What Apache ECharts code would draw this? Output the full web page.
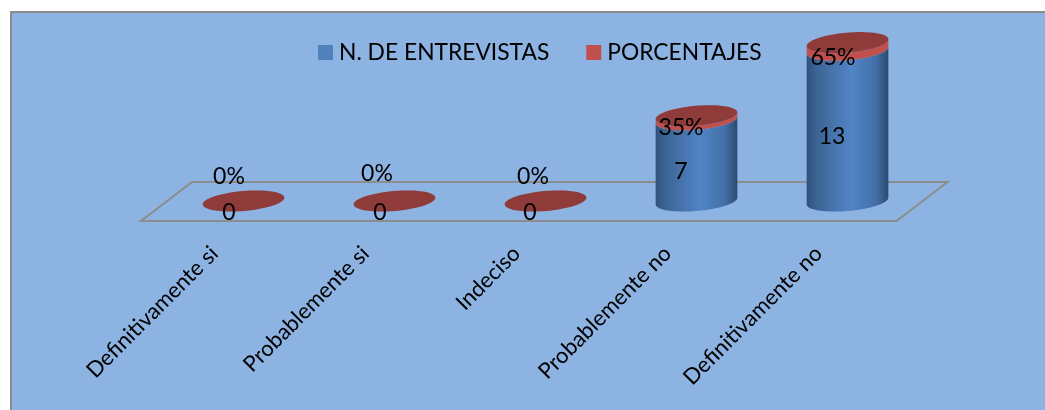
<!DOCTYPE html>
<html><head><meta charset="utf-8">
<style>html,body{margin:0;padding:0;background:#fff}#c{width:1045px;height:410px}</style>
<script src="https://cdn.jsdelivr.net/npm/echarts@6/dist/echarts.min.js"></script>
</head><body><div id="c"></div>
<script>
const categories = ['Definitivamente si','Probablemente si','Indeciso','Probablemente no','Definitivamente no'];
const entrevistas = [0,0,0,7,13];
const porcentajes = [0,0,0,0.35,0.65];
const seriesNames = ['N. DE ENTREVISTAS','PORCENTAJES'];
const pctNudge = [[-14.5,-24],[-17.5,-27],[-12.5,-24],[-15.5,10],[-14.5,11]];
const countNudge = [[-14.5,12],[-14.5,12],[-15.5,12],[-15.5,11],[-15.5,11]];
const FONT = 'Lato, sans-serif';
const RX = 41, RY = 10, TILT = -5 * Math.PI / 180;

function ell(cx, cy, t) {
  const c = Math.cos(t), s = Math.sin(t);
  return [cx + RX*c*Math.cos(TILT) - RY*s*Math.sin(TILT), cy + RX*c*Math.sin(TILT) + RY*s*Math.cos(TILT)];
}
const T0 = Math.atan2(-RY*Math.sin(TILT), RX*Math.cos(TILT));
function band(cx, yLow, yHigh) {
  const pts = [];
  for (let i=0;i<=48;i++) pts.push(ell(cx, yLow, T0 + Math.PI*i/48));
  for (let i=0;i<=48;i++) pts.push(ell(cx, yHigh, T0 + Math.PI - Math.PI*i/48));
  return pts;
}
function disc(cx, cy) {
  const pts = [];
  for (let i=0;i<96;i++) pts.push(ell(cx, cy, 2*Math.PI*i/96));
  return pts;
}
function grad(stops){ return new echarts.graphic.LinearGradient(0,0,1,0,stops); }
const blueGrad = [{offset:0,color:'#2f527c'},{offset:0.12,color:'#3c6494'},{offset:0.55,color:'#5185c6'},{offset:0.85,color:'#436fa6'},{offset:1,color:'#2b4a70'}];
const label = (x,y,text) => ({type:'text',silent:true,z2:20,style:{x,y,text,align:'center',verticalAlign:'middle',font:'23px '+FONT,fill:'#000'}});

const option = {
  animation:false,
  backgroundColor:'#ffffff',
  textStyle:{fontFamily:FONT},
  graphic:[{type:'rect',z:-10,silent:true,shape:{x:11,y:12,width:1060,height:420},
    style:{fill:'#8DB3E2',stroke:'#8C8C8C',lineWidth:2}}],
  legend:{top:36,left:313,itemWidth:15,itemHeight:15,itemGap:37,icon:'rect',
    data:seriesNames,textStyle:{fontSize:22.8,color:'#000',fontFamily:FONT,padding:[0,0,0,1]},selectedMode:false},
  grid:{left:168,width:755,top:38.6,height:162.4},
  xAxis:{type:'category',data:categories,axisLine:{show:false},axisTick:{show:false},
    axisLabel:{interval:0,rotate:45,margin:20,fontSize:22,color:'#000',fontFamily:FONT,padding:[0,41,0,0]}},
  yAxis:{type:'value',min:0,max:14,show:false,splitLine:{show:false}},
  series:[
    {type:'custom',name:'floor',silent:true,z:1,data:[0],encode:{x:0},
     renderItem(p,api){
       const g=p.coordSys, y0=g.y+g.height, L=g.x, R=g.x+g.width;
       return {type:'polygon',shape:{points:[[L-27,y0+20],[R-26.5,y0+20],[R+24.5,y0-19],[L+24,y0-19]]},
         style:{fill:'none',stroke:'#8C8C8C',lineWidth:2}};
     }},
    {type:'custom',name:seriesNames[0],z:2,itemStyle:{color:'#4F81BD'},
     data:entrevistas.map((v,i)=>[i,v]),encode:{x:0,y:1},
     renderItem(p,api){
       const i=api.value(0),v=api.value(1),[cx,y0]=api.coord([i,0]),[,y1]=api.coord([i,v]);
       const kids=[];
       if(v>0) kids.push({type:'polygon',shape:{points:band(cx,y0,y1)},style:{fill:grad(blueGrad)}});
       return {type:'group',children:kids};
     }},
    {type:'custom',name:seriesNames[1],z:3,itemStyle:{color:'#C0504D'},
     data:porcentajes.map((v,i)=>[i,v]),encode:{x:0,y:1},
     renderItem(p,api){
       const i=api.value(0),v=api.value(1),b=entrevistas[i];
       const [cx,y00]=api.coord([i,0]);
       const [,y0]=api.coord([i,b]),[,y1]=api.coord([i,b+v]);
       const kids=[];
       if(v>0) kids.push({type:'polygon',shape:{points:band(cx,y0,y1)},style:{fill:'#C0504D'}});
       kids.push({type:'polygon',shape:{points:disc(cx,y1)},style:{fill:'#8F3B3A'}});
       kids.push(label(cx+countNudge[i][0],(y00+y0)/2+countNudge[i][1],String(b)));
       kids.push(label(cx+pctNudge[i][0],(y0+y1)/2+pctNudge[i][1],Math.round(v*100)+'%'));
       return {type:'group',children:kids};
     }}
  ]
};
const chart=echarts.init(document.getElementById('c'),null,{renderer:'canvas'});
chart.setOption(option);
</script></body></html>
